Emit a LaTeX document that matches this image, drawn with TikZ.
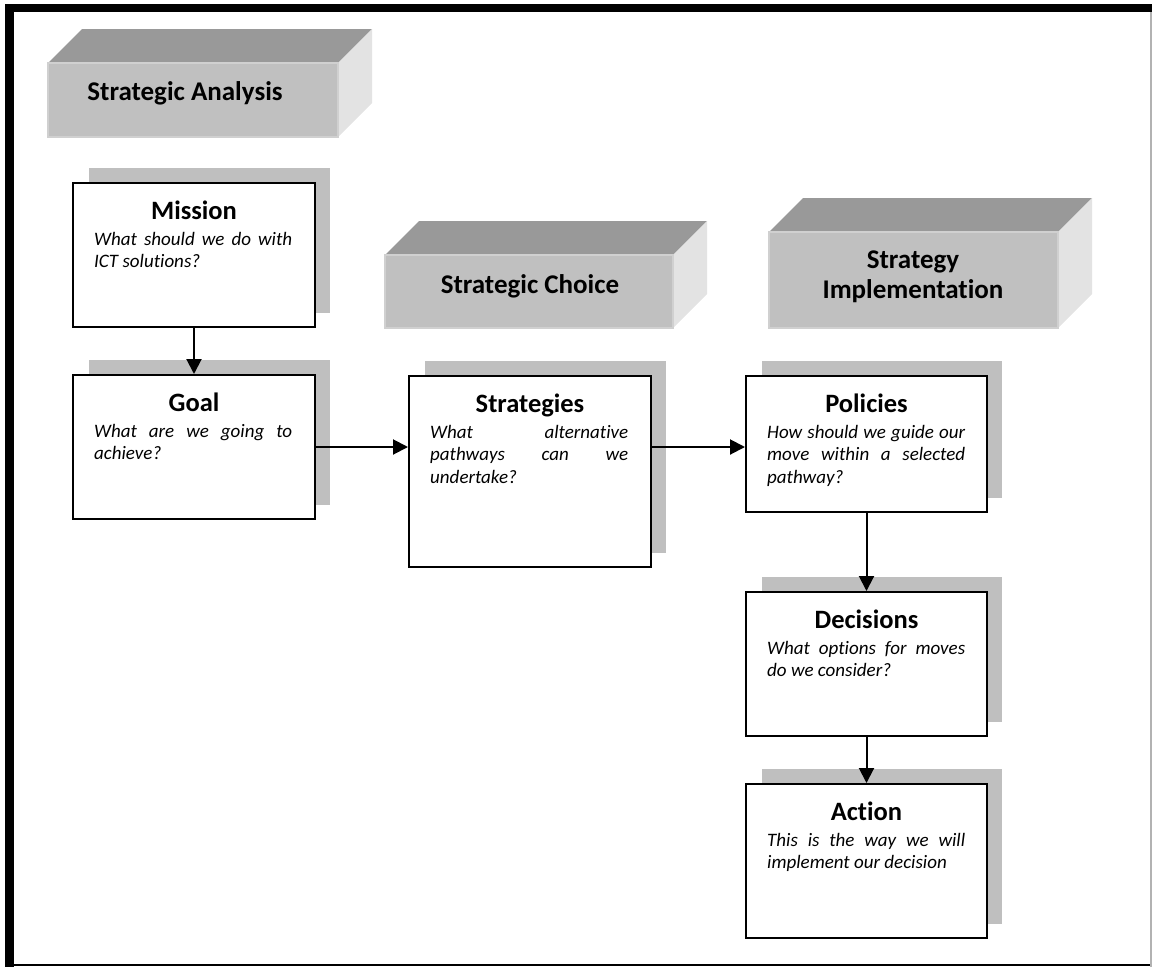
\documentclass[tikz,border=0pt]{standalone}
\usepackage{fontspec}
\setmainfont{Carlito}[Ligatures=NoCommon]
\usetikzlibrary{arrows.meta,calc}
\definecolor{shadowc}{HTML}{BFBFBF}
\definecolor{topc}{HTML}{999999}
\definecolor{frontc}{HTML}{C0C0C0}
\definecolor{edgec}{HTML}{D0D0D0}
\definecolor{sidec}{HTML}{E3E3E3}
\newcommand{\procbox}[7]{%
  \fill[shadowc] ({#2+16},{-#3+15}) rectangle ({#4+15},{-#5+14});
  \node[pbox, minimum width={#4-#2}, minimum height={#5-#3}] (#1) at ({(#2+#4)/2},{-(#3+#5)/2}) {};
  \node[ptitle] (#1-t) at ($(#1.north)+(0,-37)$) {#6};
  \node[pbody] (#1-b) at ($(#1.north west)+(22,-63)$) {\parbox[t]{198pt}{#7}};
}
\newcommand{\hdrbox}[6]{%
  \fill[topc] (#2,-#3) -- ({#2+#6},{-#3+#6}) -- ({#4+#6},{-#3+#6}) -- (#4,-#3) -- cycle;
  \fill[sidec] (#4,-#3) -- ({#4+#6},{-#3+#6}) -- ({#4+#6},{-#5+#6}) -- (#4,-#5) -- cycle;
  \node[hfront, minimum width={#4-#2}, minimum height={#5-#3}] (#1) at ({(#2+#4)/2},{-(#3+#5)/2}) {};
}
\newcommand{\jl}[1]{\makebox[198pt][s]{#1}\\}
\begin{document}
\begin{tikzpicture}[x=1pt,y=1pt,
  pbox/.style={draw=black, line width=2pt, fill=white, inner sep=0pt},
  ptitle/.style={anchor=base, inner sep=0pt, font=\fontsize{26.5}{30}\selectfont\bfseries},
  pbody/.style={anchor=base west, inner sep=0pt, font=\fontsize{19}{22.5}\selectfont\itshape},
  hfront/.style={fill=frontc, draw=edgec, line width=1.2pt, inner sep=0pt},
  htext/.style={inner sep=0pt, align=center, font=\fontsize{27}{30}\selectfont\bfseries},
  arr/.style={line width=2pt, -{Triangle[length=15pt,width=15pt]}}]
\useasboundingbox (0,0) rectangle (1152,-967);
% frame
\fill[black] (5,-4) rectangle (1152,-12);
\fill[black] (5,-4) rectangle (14,-967);
\draw[black, line width=2pt] (14,-965) -- (1152,-965);
\draw[gray!60, line width=1.5pt] (1151,-12) -- (1151,-967);
% headers
\hdrbox{hA}{48}{63}{338}{137}{34}
\node[htext] (hAt) at (185,-93) {Strategic Analysis};
\hdrbox{hC}{385}{255}{673}{328}{34}
\node[htext] (hCt) at (530,-286) {Strategic Choice};
\hdrbox{hI}{769}{232}{1058}{328}{34}
\node[htext] (hIt) at (913,-277) {Strategy\\Implementation};
% process boxes
\procbox{mission}{73}{183}{315}{327}{Mission}{\jl{What should we do with}ICT solutions?}
\procbox{goal}{73}{375}{315}{519}{Goal}{\jl{What are we going to}achieve?}
\procbox{strat}{409}{376}{651}{567}{Strategies}{\jl{What alternative}\jl{pathways can we}undertake?}
\procbox{pol}{746}{376}{987}{512}{Policies}{\jl{How should we guide our}\jl{move within a selected}pathway?}
\procbox{dec}{746}{592}{987}{736}{Decisions}{\jl{What options for moves}do we consider?}
\procbox{act}{746}{784}{987}{938}{Action}{\jl{This is the way we will}implement our decision}
% connectors
\draw[arr] (mission.south) -- (goal.north);
\draw[arr] (goal.east) -- (goal.east -| strat.west);
\draw[arr] (goal.east -| strat.east) -- (goal.east -| pol.west);
\draw[arr] (pol.south) -- (dec.north);
\draw[arr] (dec.south) -- (act.north);
\end{tikzpicture}
\end{document}
